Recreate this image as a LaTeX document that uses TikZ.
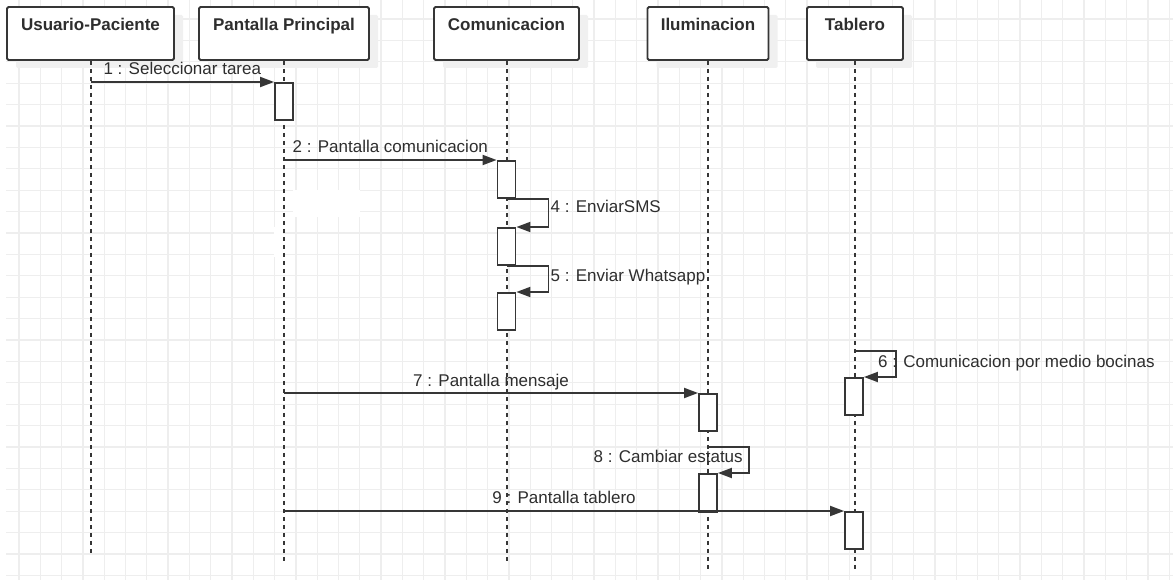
\documentclass[tikz,border=0pt]{standalone}
\usepackage{fontspec}
\setmainfont{Liberation Sans}
\usetikzlibrary{arrows.meta,calc,shadows}

\definecolor{gridcol}{HTML}{EEEEEE}
\definecolor{inkcol}{HTML}{363636}
\definecolor{textcol}{HTML}{2E2E2E}
\definecolor{shadowcol}{HTML}{F0F0F0}

\tikzset{
  gridline/.style={draw=gridcol, line width=1.3pt},
  partbox/.style={draw=inkcol, line width=1.9pt, rounded corners=1.5pt, fill=white,
    minimum height=53pt, inner sep=0pt,
    drop shadow={shadow xshift=9pt, shadow yshift=-8pt, fill=shadowcol, opacity=1}},
  parttitle/.style={anchor=base, text=textcol, font=\fontsize{17}{20}\selectfont\bfseries},
  lifeline/.style={draw=inkcol, line width=2pt, dash pattern=on 4pt off 4pt},
  actbox/.style={draw=inkcol, line width=1.8pt, fill=white, minimum width=18pt,
    inner sep=0pt, anchor=north},
  msg/.style={draw=inkcol, line width=1.8pt, -{Triangle[length=14pt,width=10pt]}},
  msglabel/.style={text=textcol, font=\fontsize{17}{20}\selectfont, inner sep=0pt},
}

\begin{document}
\begin{tikzpicture}[x=1pt,y=-1pt]
  \useasboundingbox (0,0) rectangle (1173,580);
  \fill[white] (0,0) rectangle (1173,580);

  % background grid
  \foreach \i in {0,...,54} \draw[gridline] ({19+21.3*\i},0) -- ({19+21.3*\i},580);
  \foreach \j in {0,...,26} \draw[gridline] (6,{19+21.4*\j}) -- (1173,{19+21.4*\j});
  \fill[white] (293,190) rectangle (360,217);
  \fill[white] (274,227) rectangle (283,257);

  % participants
  \node[partbox, minimum width=167pt] (u) at (90.5,33.5) {};
  \node[partbox, minimum width=170pt] (p) at (284,33.5) {};
  \node[partbox, minimum width=145pt] (c) at (506.5,33.5) {};
  \node[partbox, minimum width=121pt] (i) at (708,33.5) {};
  \node[partbox, minimum width=96pt]  (t) at (855,33.5) {};
  \node[parttitle] (ut) at ([yshift=-24pt]u.north) {Usuario-Paciente};
  \node[parttitle] (pt) at ([yshift=-24pt]p.north) {Pantalla Principal};
  \node[parttitle] (ct) at ([yshift=-24pt]c.north) {Comunicacion};
  \node[parttitle] (it) at ([yshift=-24pt]i.north) {Iluminacion};
  \node[parttitle] (tt) at ([yshift=-24pt]t.north) {Tablero};

  % lifelines
  \draw[lifeline] (u.south) -- ++(0,493);
  \draw[lifeline] (p.south) -- ++(0,503);
  \draw[lifeline] (c.south) -- ++(0,503);
  \draw[lifeline] (i.south) -- ++(0,510);
  \draw[lifeline] (t.south) -- ++(0,510);

  % activation bars
  \node[actbox, minimum height=37pt] (a1) at (284,82) {};
  \node[actbox, minimum height=37pt] (a2) at (506.5,160) {};
  \node[actbox, minimum height=37pt] (a3) at (506.5,227) {};
  \node[actbox, minimum height=37pt] (a4) at (506.5,292) {};
  \node[actbox, minimum height=37pt] (a6) at (854,377) {};
  \node[actbox, minimum height=37pt] (a7) at (708,393) {};
  \node[actbox, minimum height=38pt] (a8) at (708,473) {};
  \node[actbox, minimum height=37pt] (a9) at (854,511) {};

  % messages
  \draw[msg] (u.south |- a1.north) -- (a1.north west)
    node[msglabel, midway, anchor=base, yshift=7pt] (l1) {1 : Seleccionar tarea};
  \draw[msg] (p.south |- a2.north) -- (a2.north west)
    node[msglabel, midway, anchor=base, yshift=7pt] (l2) {2 : Pantalla comunicacion};

  \draw[msg] (a2.south) -| ($(a3.north east)+(32,0)$) -- (a3.north east);
  \node[msglabel, anchor=base west] (l4) at ($(a3.north east)+(34,-14)$) {4 : EnviarSMS};
  \draw[msg] (a3.south) -| ($(a4.north east)+(32,0)$) -- (a4.north east);
  \node[msglabel, anchor=base west] (l5) at ($(a4.north east)+(34,-10)$) {5 : Enviar Whatsapp};

  \coordinate (s6) at ($(t.south)+(0,290)$);
  \draw[msg] (s6) -| ($(a6.north east)+(32,0)$) -- (a6.north east);
  \node[msglabel, anchor=base west] (l6) at ($(a6.north east)+(14,-10)$) {6 : Comunicacion por medio bocinas};

  \draw[msg] (p.south |- a7.north) -- (a7.north west)
    node[msglabel, midway, anchor=base, yshift=7pt] (l7) {7 : Pantalla mensaje};

  \coordinate (s8) at ($(i.south)+(0,386)$);
  \draw[msg] (s8) -| ($(a8.north east)+(31,0)$) -- (a8.north east);
  \node[msglabel, anchor=base east] (l8) at ($(a8.north east)+(25,-11)$) {8 : Cambiar estatus};

  \draw[msg] (p.south |- a9.north) -- (a9.north west)
    node[msglabel, midway, anchor=base, yshift=8pt] (l9) {9 : Pantalla tablero};
\end{tikzpicture}
\end{document}
